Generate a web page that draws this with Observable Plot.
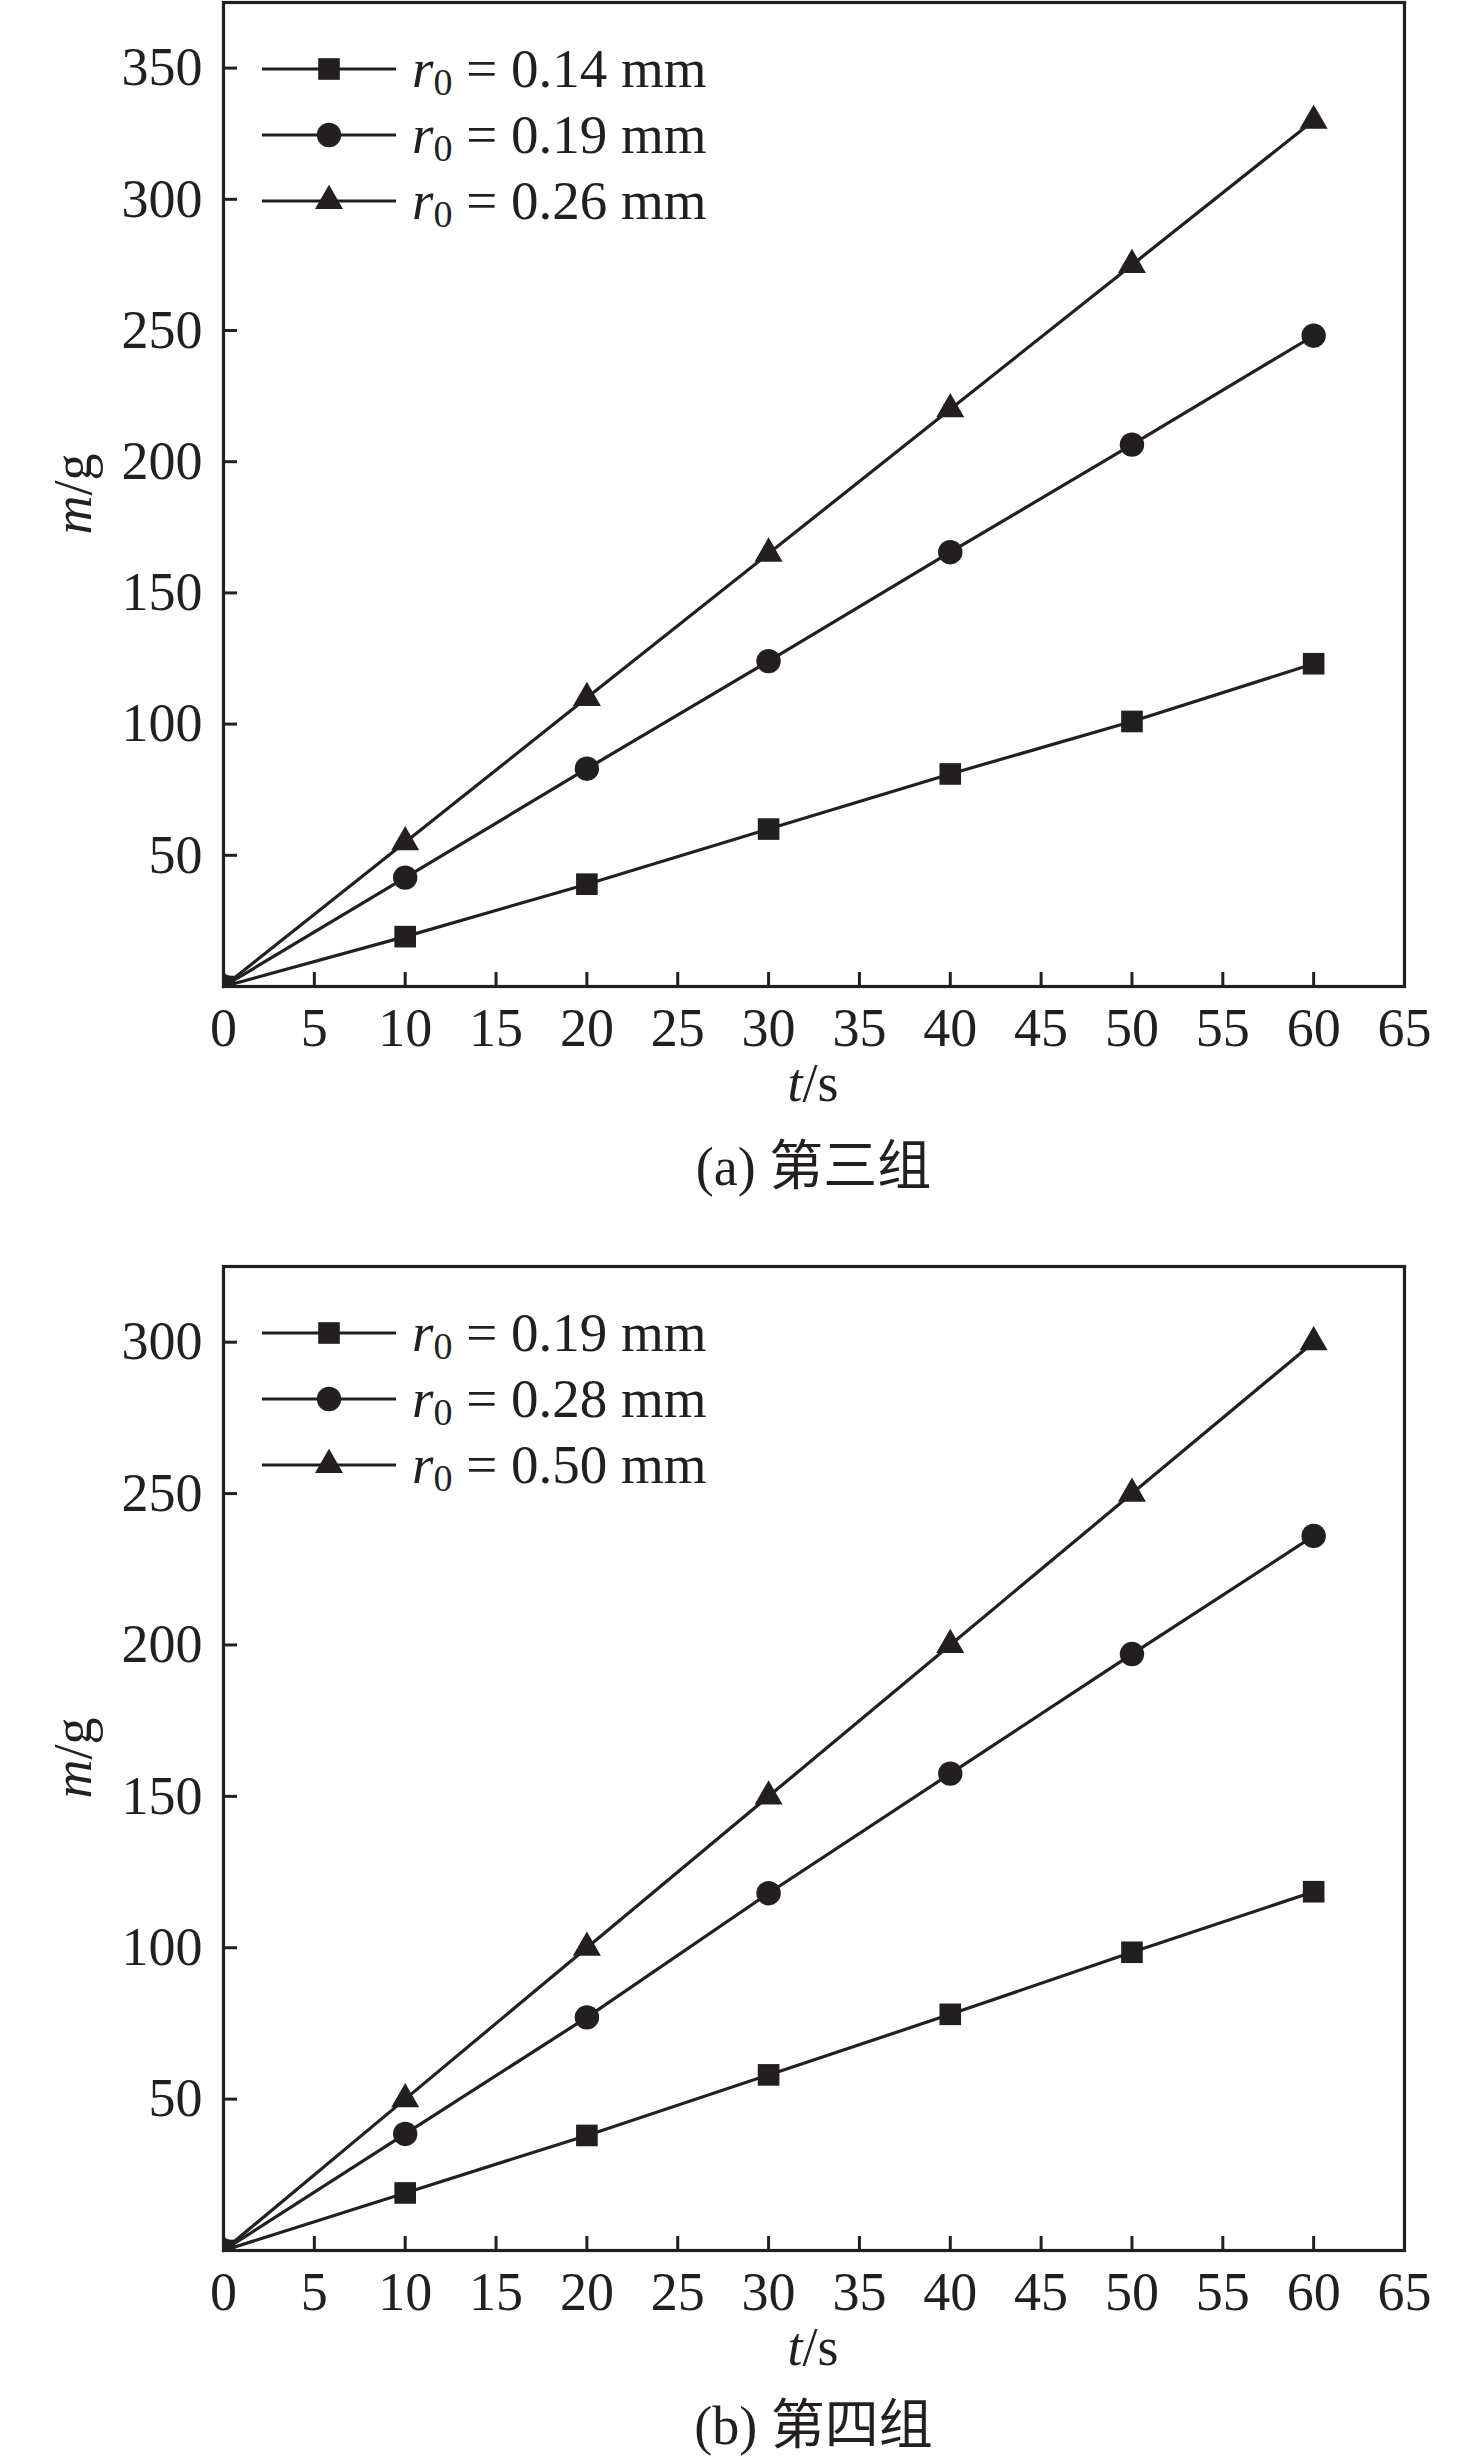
<!DOCTYPE html>
<html>
<head>
<meta charset="utf-8">
<script src="https://cdn.jsdelivr.net/npm/d3@7"></script>
<script src="https://cdn.jsdelivr.net/npm/@observablehq/plot@0.6"></script>
<style>
  html, body { margin: 0; padding: 0; background: #fff; }
  #wrap { position: relative; width: 1476px; height: 2456px; font-family: 'Liberation Serif', 'Times New Roman', serif; color: #231f20; }
  .chart { position: absolute; left: 0; }
  .cap { position: absolute; left: 223px; width: 1181px; text-align: center; font-size: 54px; line-height: 60px;
         font-family: 'Liberation Serif', 'Noto Sans CJK SC', serif; }
</style>
</head>
<body>
<div id="wrap">
  <div class="chart" id="chartA" style="top:0px"></div>
  <div class="cap" style="top:1137px">(a) 第三组</div>
  <div class="chart" id="chartB" style="top:1264px"></div>
  <div class="cap" style="top:2396px">(b) 第四组</div>
</div>
<script>
// ---- data ----
const times = [0, 10, 20, 30, 40, 50, 60];
const xTicks = [0, 5, 10, 15, 20, 25, 30, 35, 40, 45, 50, 55, 60, 65];
const xDomain = [0, 65];

// (a) 第三组
const massA_014 = [0, 19, 39, 60, 81, 101, 123];
const massA_019 = [0, 41.5, 83, 124, 165.5, 206.5, 248];
const massA_026 = [0, 55, 110, 165, 220, 275, 330];
const legendA = ["0.14", "0.19", "0.26"];
const yTicksA = [50, 100, 150, 200, 250, 300, 350];
const yDomainA = [0, 375];

// (b) 第四组
const massB_019 = [0, 19, 38, 58, 78, 98.5, 118.5];
const massB_028 = [0, 38.5, 77, 118, 157.5, 197, 236];
const massB_050 = [0, 50, 100, 150, 200, 250, 300];
const legendB = ["0.19", "0.28", "0.50"];
const yTicksB = [50, 100, 150, 200, 250, 300];
const yDomainB = [0, 325];

const symbols = ["square", "circle", "triangle"];
const radii = [12.2, 12.2, 10.4];

const INK = "#231f20";
const FONT = "'Liberation Serif', 'Times New Roman', serif";

function makeChart(seriesList, legendLabels, yTicks, yDomain) {
  const marks = [];
  seriesList.forEach((vals, i) => {
    const rows = times.map((t, j) => ({t, m: vals[j]}));
    marks.push(Plot.line(rows, {x: "t", y: "m", stroke: INK, strokeWidth: 3.2}));
    marks.push(Plot.dot(rows, {x: "t", y: "m", symbol: symbols[i], r: radii[i], fill: INK, stroke: "none", clip: true}));
  });
  marks.push(Plot.axisX({ticks: xTicks, tickSize: -14, tickPadding: 35, fontSize: 54, strokeWidth: 3, stroke: INK, fill: INK, label: null}));
  marks.push(Plot.axisY({ticks: yTicks, tickSize: -14, tickPadding: 35, fontSize: 54, strokeWidth: 3, stroke: INK, fill: INK, label: null}));
  marks.push(Plot.frame({stroke: INK, strokeWidth: 3.2}));

  const svg = Plot.plot({
    width: 1476,
    height: 1140,
    marginTop: 2,
    marginBottom: 154,
    marginLeft: 223,
    marginRight: 72,
    style: {fontFamily: FONT, fontSize: "54px", background: "white", color: INK},
    x: {domain: xDomain, label: null},
    y: {domain: yDomain, label: null},
    marks
  });

  const s = d3.select(svg);
  // legend
  const g = s.append("g").attr("font-family", FONT).attr("font-size", 55).attr("fill", INK)
    .attr("text-anchor", "start");
  const rowsY = [69, 135, 201];
  legendLabels.forEach((lab, i) => {
    const y = rowsY[i];
    g.append("line").attr("x1", 262).attr("x2", 396).attr("y1", y).attr("y2", y)
      .attr("stroke", INK).attr("stroke-width", 3.2);
    const r = radii[i];
    const symType = {square: d3.symbolSquare, circle: d3.symbolCircle, triangle: d3.symbolTriangle}[symbols[i]];
    g.append("path").attr("transform", `translate(329,${y})`)
      .attr("d", d3.symbol(symType, r * r * Math.PI)()).attr("fill", INK);
    const tx = g.append("text").attr("x", 412).attr("y", y + 18).attr("text-anchor", "start");
    tx.append("tspan").attr("font-style", "italic").text("r");
    tx.append("tspan").attr("font-size", 38).attr("dy", 8).text("0");
    tx.append("tspan").attr("dy", -8).text(" = " + lab + " mm");
  });
  // axis labels
  const xl = s.append("text").attr("x", 813).attr("y", 1101).attr("text-anchor", "middle")
    .attr("font-family", FONT).attr("font-size", 54).attr("fill", INK);
  xl.append("tspan").attr("font-style", "italic").text("t");
  xl.append("tspan").text("/s");
  const yl = s.append("text").attr("transform", "translate(91,494) rotate(-90)").attr("text-anchor", "middle")
    .attr("font-family", FONT).attr("font-size", 54).attr("fill", INK);
  yl.append("tspan").attr("font-style", "italic").text("m");
  yl.append("tspan").text("/g");
  return svg;
}

document.getElementById("chartA").appendChild(makeChart([massA_014, massA_019, massA_026], legendA, yTicksA, yDomainA));
document.getElementById("chartB").appendChild(makeChart([massB_019, massB_028, massB_050], legendB, yTicksB, yDomainB));
</script>
</body>
</html>
